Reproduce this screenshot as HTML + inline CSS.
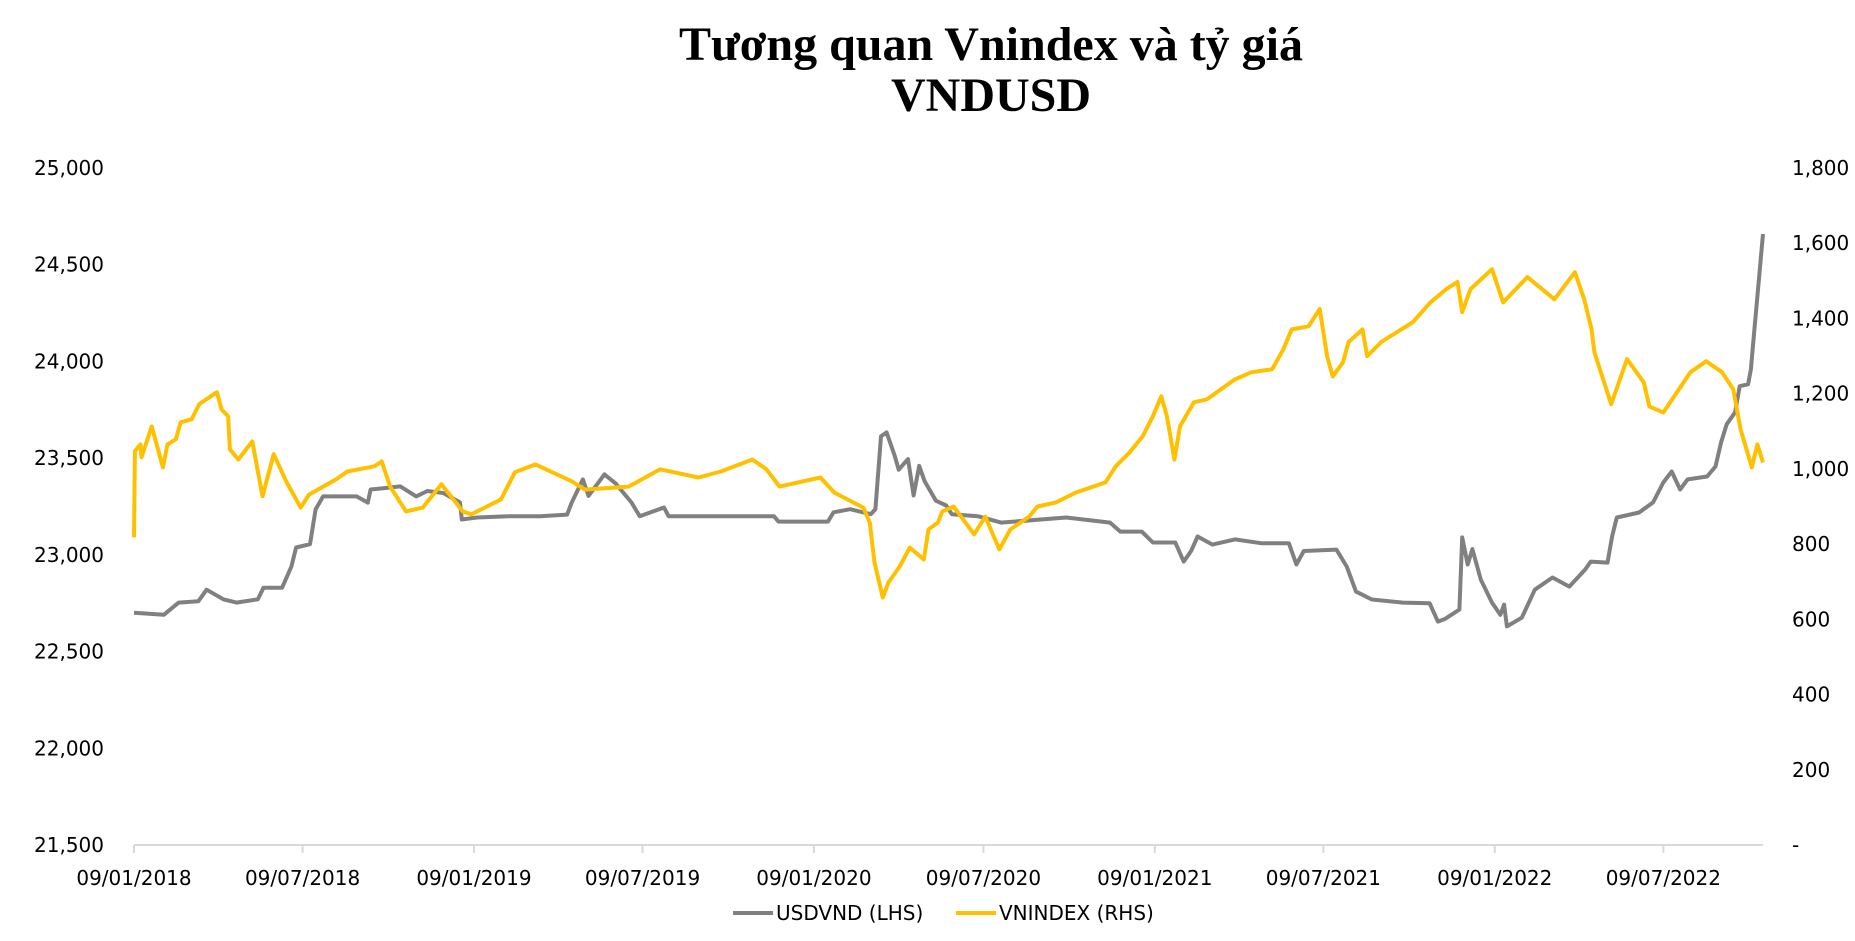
<!DOCTYPE html>
<html><head><meta charset="utf-8"><style>
html,body{margin:0;padding:0;background:#fff;}
svg{display:block;}
text{font-family:"DejaVu Sans","Liberation Sans",sans-serif;fill:#000;}
.title{font-family:"Liberation Serif","DejaVu Serif",serif;font-weight:bold;font-size:48px;}
</style></head><body>
<svg id="chart" width="1855" height="941" viewBox="0 0 1855 941" xmlns="http://www.w3.org/2000/svg">
<text class="title" x="991" y="60" text-anchor="middle">Tương quan Vnindex và tỷ giá</text>
<text class="title" x="991" y="111" text-anchor="middle">VNDUSD</text>
<g id="axes"></g>
<g id="series"></g>
<g id="legend">
  <line x1="733" y1="913" x2="773" y2="913" stroke="#808080" stroke-width="4"/>
  <text x="776" y="920" font-size="20">USDVND (LHS)</text>
  <line x1="956" y1="913" x2="996" y2="913" stroke="#FFC000" stroke-width="4"/>
  <text x="999" y="920" font-size="20">VNINDEX (RHS)</text>
</g>
</svg>
<script>
const usdDates = ["2018-01-09","2018-02-10","2018-02-26","2018-03-19","2018-03-28","2018-04-15","2018-04-29","2018-05-22","2018-05-28","2018-06-17","2018-06-27","2018-07-02","2018-07-17","2018-07-23","2018-07-31","2018-08-18","2018-09-05","2018-09-17","2018-09-20","2018-10-05","2018-10-22","2018-11-08","2018-11-20","2018-12-07","2018-12-25","2018-12-27","2019-01-12","2019-02-15","2019-03-21","2019-04-19","2019-04-24","2019-05-06","2019-05-12","2019-05-29","2019-06-10","2019-06-27","2019-07-06","2019-08-01","2019-08-06","2019-09-12","2019-10-04","2019-11-27","2019-12-02","2020-01-24","2020-01-30","2020-02-17","2020-03-10","2020-03-15","2020-03-21","2020-03-27","2020-04-05","2020-04-09","2020-04-19","2020-04-25","2020-05-01","2020-05-07","2020-05-13","2020-05-19","2020-05-30","2020-06-05","2020-07-03","2020-07-28","2020-10-06","2020-11-22","2020-12-03","2020-12-26","2021-01-07","2021-01-31","2021-02-09","2021-02-17","2021-02-24","2021-03-12","2021-04-05","2021-05-04","2021-06-02","2021-06-10","2021-06-18","2021-07-23","2021-08-03","2021-08-13","2021-08-30","2021-10-02","2021-10-31","2021-11-09","2021-11-17","2021-12-02","2021-12-05","2021-12-11","2021-12-16","2021-12-25","2022-01-06","2022-01-15","2022-01-19","2022-01-22","2022-02-07","2022-02-21","2022-03-12","2022-03-30","2022-04-16","2022-04-22","2022-05-10","2022-05-15","2022-05-20","2022-06-13","2022-06-28","2022-07-09","2022-07-18","2022-07-27","2022-08-04","2022-08-25","2022-09-03","2022-09-09","2022-09-15","2022-09-24","2022-09-29","2022-10-08","2022-10-11","2022-10-14","2022-10-24"];
const usdValues = [22701,22690,22753,22760,22820,22770,22753,22770,22830,22830,22940,23038,23055,23235,23302,23302,23302,23270,23338,23345,23354,23302,23330,23320,23271,23183,23193,23200,23200,23208,23271,23390,23305,23416,23370,23271,23200,23245,23200,23200,23200,23200,23172,23172,23220,23236,23210,23236,23613,23633,23509,23440,23495,23307,23460,23380,23330,23280,23255,23210,23200,23167,23193,23167,23120,23120,23064,23064,22965,23020,23095,23053,23080,23060,23060,22950,23020,23027,22940,22810,22769,22753,22750,22655,22670,22717,23090,22950,23030,22872,22753,22690,22743,22630,22675,22820,22883,22836,22924,22965,22960,23095,23193,23219,23271,23374,23431,23338,23390,23405,23457,23582,23675,23737,23872,23882,23960,24125,24659];
const vniDates = ["2018-01-09","2018-01-10","2018-01-16","2018-01-17","2018-01-28","2018-02-09","2018-02-14","2018-02-23","2018-02-28","2018-03-12","2018-03-20","2018-04-08","2018-04-13","2018-04-20","2018-04-22","2018-05-01","2018-05-16","2018-05-27","2018-06-08","2018-06-22","2018-07-07","2018-07-16","2018-08-14","2018-08-26","2018-09-24","2018-10-02","2018-10-11","2018-10-28","2018-11-15","2018-12-05","2018-12-28","2019-01-06","2019-02-07","2019-02-22","2019-03-16","2019-04-24","2019-05-08","2019-06-24","2019-07-28","2019-09-07","2019-10-01","2019-11-04","2019-11-19","2019-12-03","2020-01-16","2020-01-31","2020-03-02","2020-03-09","2020-03-14","2020-03-23","2020-03-29","2020-04-10","2020-04-21","2020-05-06","2020-05-11","2020-05-21","2020-05-26","2020-06-07","2020-06-29","2020-07-11","2020-07-26","2020-08-07","2020-08-27","2020-09-05","2020-09-25","2020-10-16","2020-11-17","2020-11-28","2020-12-13","2020-12-27","2021-01-07","2021-01-16","2021-01-22","2021-01-30","2021-02-05","2021-02-20","2021-03-06","2021-04-05","2021-04-23","2021-05-15","2021-05-27","2021-06-05","2021-06-23","2021-07-05","2021-07-13","2021-07-19","2021-07-30","2021-08-05","2021-08-20","2021-08-25","2021-09-09","2021-10-13","2021-11-01","2021-11-18","2021-11-30","2021-12-05","2021-12-14","2022-01-06","2022-01-18","2022-02-13","2022-03-14","2022-04-05","2022-04-15","2022-04-23","2022-04-26","2022-05-14","2022-05-31","2022-06-18","2022-06-24","2022-07-09","2022-08-07","2022-08-24","2022-09-10","2022-09-22","2022-09-30","2022-10-12","2022-10-18","2022-10-24"];
const vniValues = [818,1047,1065,1031,1113,1004,1065,1079,1124,1132,1172,1204,1158,1140,1052,1025,1073,927,1039,964,897,932,972,993,1007,1020,953,887,897,959,887,879,919,991,1012,967,945,953,999,977,993,1025,999,953,977,937,897,857,751,658,698,740,791,759,839,857,887,900,826,873,786,839,873,900,911,937,964,1007,1044,1087,1140,1193,1140,1025,1113,1177,1185,1238,1257,1265,1318,1371,1379,1425,1300,1246,1283,1337,1371,1300,1337,1390,1443,1478,1497,1417,1478,1531,1443,1510,1451,1523,1451,1371,1310,1172,1292,1230,1166,1150,1257,1286,1257,1212,1105,1004,1065,1017];
const xTickDates = ["2018-01-09","2018-07-09","2019-01-09","2019-07-09","2020-01-09","2020-07-09","2021-01-09","2021-07-09","2022-01-09","2022-07-09"];
const xTickLabels = ["09/01/2018","09/07/2018","09/01/2019","09/07/2019","09/01/2020","09/07/2020","09/01/2021","09/07/2021","09/01/2022","09/07/2022"];
const leftTicks = [21500,22000,22500,23000,23500,24000,24500,25000];
const leftTickLabels = ["21,500","22,000","22,500","23,000","23,500","24,000","24,500","25,000"];
const rightTicks = [0,200,400,600,800,1000,1200,1400,1600,1800];
const rightTickLabels = ["-","200","400","600","800","1,000","1,200","1,400","1,600","1,800"];

const NS = "http://www.w3.org/2000/svg";
const plotL = 134, plotR = 1763, plotT = 168, plotB = 845;
const t0 = Date.UTC(2018,0,9), t1 = Date.UTC(2022,9,24);
function toT(s){const p=s.split("-");return Date.UTC(+p[0],+p[1]-1,+p[2]);}
function xScale(s){return plotL + (toT(s)-t0)/(t1-t0)*(plotR-plotL);}
function yLeft(v){return plotB - (v-21500)/(25000-21500)*(plotB-plotT);}
function yRight(v){return plotB - v/1800*(plotB-plotT);}

const axes = document.getElementById('axes');
const base = document.createElementNS(NS,'line');


base.setAttribute('x1',plotL);base.setAttribute('x2',plotR);base.setAttribute('y1',plotB);base.setAttribute('y2',plotB);
base.setAttribute('stroke','#d9d9d9');base.setAttribute('stroke-width','2');
axes.appendChild(base);

xTickDates.forEach((d,i)=>{
  const x = xScale(d);
  const tk = document.createElementNS(NS,'line');
  
  
  tk.setAttribute('x1',x);tk.setAttribute('x2',x);tk.setAttribute('y1',plotB);tk.setAttribute('y2',plotB+8);
  tk.setAttribute('stroke','#d9d9d9');tk.setAttribute('stroke-width','2');
  axes.appendChild(tk);
  const t = document.createElementNS(NS,'text');
  
  
  t.setAttribute('x',x);t.setAttribute('y',885);t.setAttribute('text-anchor','middle');t.setAttribute('font-size','20');
  t.textContent = xTickLabels[i];
  axes.appendChild(t);
});
leftTicks.forEach((v,i)=>{
  const t = document.createElementNS(NS,'text');
  
  
  t.setAttribute('x',104);t.setAttribute('y',yLeft(v)+7);t.setAttribute('text-anchor','end');t.setAttribute('font-size','20');
  t.textContent = leftTickLabels[i];
  axes.appendChild(t);
});
rightTicks.forEach((v,i)=>{
  const t = document.createElementNS(NS,'text');
  
  
  t.setAttribute('x',1792);t.setAttribute('y',yRight(v)+7);t.setAttribute('font-size','20');
  t.textContent = rightTickLabels[i];
  axes.appendChild(t);
});

const series = document.getElementById('series');
function drawLine(dates, vals, yf, color, name){
  const p = document.createElementNS(NS,'polyline');
  
  
  p.setAttribute('points', dates.map((d,i)=>xScale(d).toFixed(1)+','+yf(vals[i]).toFixed(1)).join(' '));
  p.setAttribute('fill','none');p.setAttribute('stroke',color);p.setAttribute('stroke-width','4');
  p.setAttribute('stroke-linejoin','round');
  series.appendChild(p);
}
drawLine(usdDates, usdValues, yLeft, '#808080', 'usdvnd-line');
drawLine(vniDates, vniValues, yRight, '#FFC000', 'vnindex-line');
</script>
</body></html>
